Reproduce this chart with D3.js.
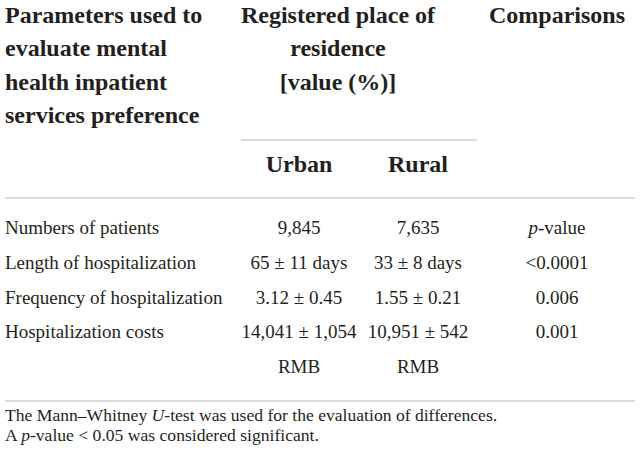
<!DOCTYPE html>
<html lang="en">
<head>
    <meta charset="UTF-8">
    <title>Mental health inpatient services by residence</title>
    <script src="https://d3js.org/d3.v7.min.js"></script>
    <style>
        body {
            margin: 0;
            background: #fff;
        }
        svg text {
            fill: #231f20;
            font-family: "Liberation Serif", "Times New Roman", Tinos, "DejaVu Serif", serif;
        }
        .head {
            font-size: 24px;
            font-weight: bold;
        }
        .cell {
            font-size: 19px;
        }
        .note {
            font-size: 17.6px;
        }
        .rule {
            stroke: #cfcfcf;
            stroke-width: 1.3;
        }
    </style>
</head>
<body>
    <div id="chart"></div>

    <script>
        // table content
        const paramHeader = ["Parameters used to", "evaluate mental", "health inpatient", "services preference"];
        const groupHeader = ["Registered place of", "residence", "[value (%)]"];
        const compHeader = ["Comparisons"];
        const subHeaders = ["Urban", "Rural"];

        const parameters = ["Numbers of patients", "Length of hospitalization",
                            "Frequency of hospitalization", "Hospitalization costs"];
        const urban = [["9,845"], ["65 \u00b1 11 days"], ["3.12 \u00b1 0.45"], ["14,041 \u00b1 1,054", "RMB"]];
        const rural = [["7,635"], ["33 \u00b1 8 days"], ["1.55 \u00b1 0.21"], ["10,951 \u00b1 542", "RMB"]];
        const comparisons = ["p-value", "<0.0001", "0.006", "0.001"];

        const notes = ["The Mann\u2013Whitney U-test was used for the evaluation of differences.",
                       "A p-value < 0.05 was considered significant."];

        const width = 641, height = 459;

        const svg = d3.select("#chart")
                      .append("svg")
                      .attr("width", width)
                      .attr("height", height);

        // column positions
        const col = d3.scaleOrdinal()
                      .domain(["param", "group", "urban", "rural", "comp"])
                      .range([5, 338, 299, 418, 557]);

        // header line positions
        const headLine = d3.scaleLinear().domain([0, 3]).range([23, 123]);
        // body line positions (4 rows + one wrapped line)
        const bodyLine = d3.scaleLinear().domain([0, 4]).range([234, 373]);

        // italic p / U inside a string
        function styled(sel, str) {
            const parts = str.split(/(\bp(?=-value)|\bU(?=-test))/);
            parts.forEach(p => {
                if (!p) return;
                const t = sel.append("tspan").text(p);
                if (p === "p" || p === "U") t.style("font-style", "italic");
            });
        }

        // header
        svg.selectAll(".ph")
            .data(paramHeader)
            .enter().append("text")
            .attr("class", "head")
            .attr("x", col("param"))
            .attr("y", (d, i) => headLine(i))
            .text(d => d);

        svg.selectAll(".gh")
            .data(groupHeader)
            .enter().append("text")
            .attr("class", "head")
            .attr("x", col("group"))
            .attr("y", (d, i) => headLine(i))
            .attr("text-anchor", "middle")
            .text(d => d);

        svg.selectAll(".ch")
            .data(compHeader)
            .enter().append("text")
            .attr("class", "head")
            .attr("x", col("comp"))
            .attr("y", (d, i) => headLine(i))
            .attr("text-anchor", "middle")
            .text(d => d);

        svg.selectAll(".sh")
            .data(subHeaders)
            .enter().append("text")
            .attr("class", "head")
            .attr("x", d => col(d.toLowerCase()))
            .attr("y", 172)
            .attr("text-anchor", "middle")
            .text(d => d);

        // rules
        const rules = [
            { x1: 241, x2: 477, y: 140 },
            { x1: 5, x2: 635, y: 198 },
            { x1: 5, x2: 635, y: 401 }
        ];
        svg.selectAll(".rule")
            .data(rules)
            .enter().append("line")
            .attr("class", "rule")
            .attr("x1", d => d.x1)
            .attr("x2", d => d.x2)
            .attr("y1", d => d.y)
            .attr("y2", d => d.y);

        // body
        svg.selectAll(".pr")
            .data(parameters)
            .enter().append("text")
            .attr("class", "cell")
            .attr("x", col("param"))
            .attr("y", (d, i) => bodyLine(i))
            .text(d => d);

        function valueColumn(values, key) {
            values.forEach((lines, i) => {
                lines.forEach((line, j) => {
                    svg.append("text")
                        .attr("class", "cell")
                        .attr("x", col(key))
                        .attr("y", bodyLine(i + j))
                        .attr("text-anchor", "middle")
                        .text(line);
                });
            });
        }
        valueColumn(urban, "urban");
        valueColumn(rural, "rural");

        svg.selectAll(".cp")
            .data(comparisons)
            .enter().append("text")
            .attr("class", "cell")
            .attr("x", col("comp"))
            .attr("y", (d, i) => bodyLine(i))
            .attr("text-anchor", "middle")
            .each(function (d) { styled(d3.select(this), d); });

        // footnotes
        svg.selectAll(".nt")
            .data(notes)
            .enter().append("text")
            .attr("class", "note")
            .attr("x", 5)
            .attr("y", (d, i) => 421 + i * 20)
            .each(function (d) { styled(d3.select(this), d); });
    </script>
</body>
</html>
